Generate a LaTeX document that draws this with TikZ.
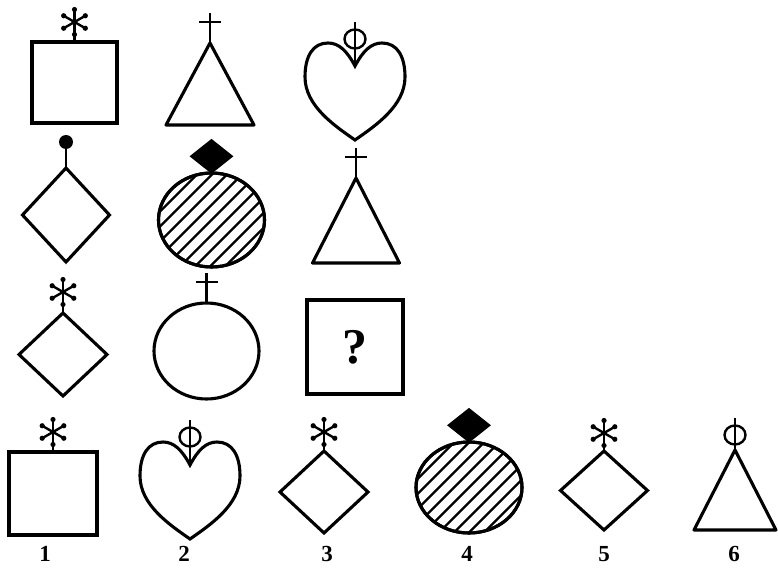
\documentclass[tikz,border=0pt]{standalone}
\usepackage{fontspec}
\setmainfont{Liberation Serif}
\usepackage{tikz}
\usetikzlibrary{shapes.geometric,calc,positioning}
\tikzset{
    fig/.style = {draw, line width=3.1pt, inner sep=0pt, outer sep=0pt},
    square/.style = {fig, rectangle},
    rhomb/.style = {fig, diamond},
    oval/.style = {fig, ellipse},
    fdia/.style = {diamond, fill=black, inner sep=0pt, minimum width=44pt, minimum height=35pt},
    sym/.style = {line width=2.4pt},
    hatch/.style = {line width=2.2pt},
    num/.style = {font=\fontsize{23}{23}\selectfont\bfseries},
    asterisk/.pic = {
        \foreach \a in {90,30,-30,150,210,270}{
            \draw[sym] (0,0) -- (\a:12.5);
            \fill (\a:12.5) circle (2.6);
        }
    },
    cross/.pic = {
        \draw[sym] (0,0) -- (0,-30);
        \draw[sym] (-11,-21) -- (11,-21);
    },
    phi/.pic = {
        \draw[sym] (0,0) -- (0,-#1-17);
        \draw[sym] (0,-#1) ellipse (10.5 and 9.5);
    },
    heart/.pic = {
        \draw[fig] (0,0) .. controls (-8,-15) and (-16,-23) .. (-27,-23)
            .. controls (-42,-23) and (-50,-10) .. (-50,11)
            .. controls (-50,40) and (-20,60) .. (0,74)
            .. controls (20,60) and (50,40) .. (50,11)
            .. controls (50,-10) and (42,-23) .. (27,-23)
            .. controls (16,-23) and (8,-15) .. (0,0) -- cycle;
    }
}

\begin{document}
\begin{tikzpicture}[x=1pt, y=-1pt]
    \useasboundingbox (0,0) rectangle (778,567);

    % row 1
    \node [square, minimum width=85pt, minimum height=81pt] (sq1) at (74.5,82.5) {};
    \coordinate (ast1) at ($(sq1.north)+(0,-20)$);
    \draw[sym] (sq1.north) -- (ast1);
    \pic at (ast1) {asterisk};

    \coordinate (tri1) at (210,43);
    \draw[fig, line join=round] (tri1) -- ++(-44,82) -- ++(88,0) -- cycle;
    \pic at (tri1) {cross};

    \coordinate (hrt1) at (355,66);
    \pic at (hrt1) {heart};
    \pic at (hrt1) {phi=27};

    % row 2
    \node [rhomb, minimum width=87pt, minimum height=94pt] (dia2) at (66,215) {};
    \coordinate (dot2) at ($(dia2.north)+(0,-26)$);
    \draw[sym] (dia2.north) -- (dot2);
    \fill (dot2) circle (7);

    \node [oval, minimum width=106pt, minimum height=94pt] (circ2) at (211.5,220) {};
    \begin{scope}
        \clip (circ2.center) ellipse (53 and 47);
        \foreach \s in {-90,-75,...,90}
            \draw[hatch] ($(circ2.center)+(\s-60,60)$) -- ($(circ2.center)+(\s+60,-60)$);
    \end{scope}
    \node [oval, minimum width=106pt, minimum height=94pt] at (circ2.center) {};
    \node [fdia, anchor=south] (fd2) at ($(circ2.north)+(0,1)$) {};

    \coordinate (tri2) at (356,178);
    \draw[fig, line join=round] (tri2) -- ++(-43.5,85) -- ++(87,0) -- cycle;
    \pic at (tri2) {cross};

    % row 3
    \node [rhomb, minimum width=88pt, minimum height=83pt] (dia3) at (63,354.5) {};
    \coordinate (ast3) at ($(dia3.north)+(0,-21)$);
    \draw[sym] (dia3.north) -- (ast3);
    \pic at (ast3) {asterisk};

    \node [oval, minimum width=105pt, minimum height=96pt] (circ3) at (206.5,351) {};
    \pic at (circ3.north) {cross};

    \node [square, minimum width=96pt, minimum height=94pt, font=\fontsize{50}{50}\selectfont\bfseries] (quest) at (355,347) {?};

    % answers
    \node [square, minimum width=88pt, minimum height=83pt] (opt1) at (53,493.5) {};
    \coordinate (ast4) at ($(opt1.north)+(0,-20)$);
    \draw[sym] (opt1.north) -- (ast4);
    \pic at (ast4) {asterisk};

    \coordinate (hrt2) at (190,465);
    \pic at (hrt2) {heart};
    \pic at (hrt2) {phi=28};

    \node [rhomb, minimum width=88pt, minimum height=82pt] (opt3) at (324,492) {};
    \coordinate (ast5) at ($(opt3.north)+(0,-19)$);
    \draw[sym] (opt3.north) -- (ast5);
    \pic at (ast5) {asterisk};

    \node [oval, minimum width=106pt, minimum height=91pt] (opt4) at (469,487.5) {};
    \begin{scope}
        \clip (opt4.center) ellipse (53 and 45.5);
        \foreach \s in {-90,-75,...,90}
            \draw[hatch] ($(opt4.center)+(\s-60,60)$) -- ($(opt4.center)+(\s+60,-60)$);
    \end{scope}
    \node [oval, minimum width=106pt, minimum height=91pt] at (opt4.center) {};
    \node [fdia, anchor=south] (fd4) at ($(opt4.north)+(0,1)$) {};

    \node [rhomb, minimum width=87pt, minimum height=79pt] (opt5) at (604,490.5) {};
    \coordinate (ast6) at ($(opt5.north)+(0,-18)$);
    \draw[sym] (opt5.north) -- (ast6);
    \pic at (ast6) {asterisk};

    \coordinate (tri6) at (735,450);
    \draw[fig, line join=round] (tri6) -- ++(-41,80) -- ++(82,0) -- cycle;
    \pic at (tri6) {phi=15};

    % numbers
    \node [num] (n1) at (45,554) {1};
    \node [num] (n2) at (184,554) {2};
    \node [num] (n3) at (327,554) {3};
    \node [num] (n4) at (467,554) {4};
    \node [num] (n5) at (604,554) {5};
    \node [num] (n6) at (734,554) {6};
\end{tikzpicture}
\end{document}
